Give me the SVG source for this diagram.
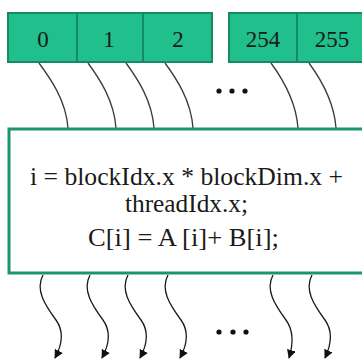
<svg xmlns="http://www.w3.org/2000/svg" width="362" height="360" viewBox="0 0 362 360">
<defs>
<style>
.cell{fill:#20bf8c;stroke:#178a65;stroke-width:2}
.num{font-family:"Liberation Serif",serif;font-size:23px;fill:#1a1a1a;text-anchor:middle}
.code{font-family:"Liberation Serif",serif;font-size:25px;fill:#1a1a1a;text-anchor:middle}
.in{fill:none;stroke:#3a3a3a;stroke-width:1.3}
.out{fill:none;stroke:#1a1a1a;stroke-width:1.3;marker-end:url(#ah)}
.dot{fill:#111}
</style>
<marker id="ah" viewBox="0 0 10 10" refX="9" refY="5" markerWidth="9" markerHeight="9" markerUnits="userSpaceOnUse" orient="auto">
<path d="M0,0 L10,5 L0,10 Z" fill="#111"/>
</marker>
</defs>
<rect width="362" height="360" fill="#fff"/>
<g id="connectors">
<path class="in" d="M39,63 C50,78 66,100 68,128"/>
<path class="in" d="M88,63 C99,78 114,100 116,128"/>
<path class="in" d="M126,63 C137,78 152,100 154,128"/>
<path class="in" d="M165,63 C176,78 191,100 193,128"/>
<path class="in" d="M271,63 C282,78 296,100 298,128"/>
<path class="in" d="M309,63 C320,78 334,100 336,128"/>
<path class="out" d="M43,275 C35,290 45,305 56,320 C64,331 62,345 55,358"/>
<path class="out" d="M90,275 C82,290 92,305 103,320 C111,331 109,345 102,358"/>
<path class="out" d="M128,275 C120,290 130,305 141,320 C149,331 147,345 140,358"/>
<path class="out" d="M168,275 C160,290 170,305 181,320 C189,331 187,345 180,358"/>
<path class="out" d="M273,275 C265,290 275,305 286,320 C294,331 293,345 289,358"/>
<path class="out" d="M312,275 C304,290 314,305 325,320 C333,331 331,345 325,358"/>
</g>
<g id="thread-0"><rect class="cell" x="8" y="13" width="69" height="49"/><text class="num" x="43" y="47">0</text></g>
<g id="thread-1"><rect class="cell" x="77" y="13" width="66" height="49"/><text class="num" x="109" y="47">1</text></g>
<g id="thread-2"><rect class="cell" x="143" y="13" width="69" height="49"/><text class="num" x="178" y="47">2</text></g>
<g id="thread-254"><rect class="cell" x="229" y="13" width="68" height="49"/><text class="num" x="263" y="47">254</text></g>
<g id="thread-255"><rect class="cell" x="297" y="13" width="70" height="49"/><text class="num" x="332" y="47">255</text></g>
<g id="dots-top"><circle class="dot" cx="219" cy="91" r="2.6"/><circle class="dot" cx="232" cy="91" r="2.6"/><circle class="dot" cx="245" cy="91" r="2.6"/></g>
<g id="kernel">
<rect x="9" y="129" width="360" height="144" fill="#fff" stroke="#1c9470" stroke-width="3"/>
<text class="code" x="186.5" y="185" textLength="313" lengthAdjust="spacingAndGlyphs">i = blockIdx.x * blockDim.x +</text>
<text class="code" x="186.5" y="212" textLength="123" lengthAdjust="spacingAndGlyphs">threadIdx.x;</text>
<text class="code" x="183.5" y="246" textLength="191" lengthAdjust="spacingAndGlyphs">C[i] = A [i]+ B[i];</text>
</g>
<g id="dots-bottom"><circle class="dot" cx="219" cy="332" r="2.6"/><circle class="dot" cx="233" cy="332" r="2.6"/><circle class="dot" cx="246" cy="332" r="2.6"/></g>
</svg>
